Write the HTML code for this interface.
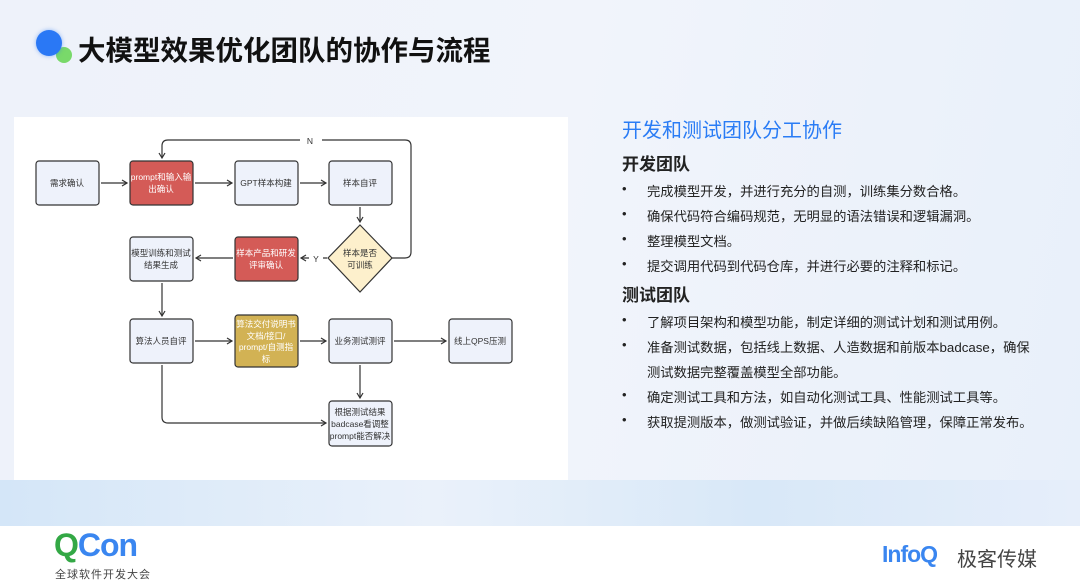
<!DOCTYPE html>
<html><head><meta charset="utf-8"><style>
*{margin:0;padding:0}
body{width:1080px;height:585px;position:relative;overflow:hidden;font-family:"Liberation Sans","Noto Sans CJK SC",sans-serif;background:linear-gradient(100deg,#eef2fa 0%,#f1f4fb 50%,#e8f0fa 100%)}
.a{position:absolute;white-space:nowrap}
.foot{position:absolute;left:0;top:526px;width:1080px;height:59px;background:#fff}
.band{position:absolute;left:0;top:480px;width:1080px;height:46px;background:linear-gradient(90deg,#d4e6f8,#eaf1fa 40%,#d8e8f8 70%,#e6eefa)}
.li{font-size:13.3px;color:#222}
.bul{position:absolute;left:622px;font-size:13px;color:#222}
</style></head><body>
<div class="band"></div>
<div style="position:absolute;left:56px;top:47px;width:16px;height:16px;border-radius:50%;background:#79d96a"></div>
<div style="position:absolute;left:36px;top:30px;width:26px;height:26px;border-radius:50%;background:#2a78f5;box-shadow:0 0 4px rgba(42,120,245,.5)"></div>
<div class="a" style="left:78px;top:28px;font-size:27.5px;font-weight:bold;color:#111">大模型效果优化团队的协作与流程</div>

<div style="position:absolute;left:14px;top:117px;width:554px;height:363px;background:#fff"></div>
<svg style="position:absolute;left:0;top:0" width="1080" height="585" font-family="Liberation Sans,Noto Sans CJK SC,sans-serif" font-size="8.5">
<defs><marker id="m" markerWidth="8" markerHeight="8" refX="6" refY="4" orient="auto" markerUnits="userSpaceOnUse"><path d="M1,1 L6,4 L1,7" fill="none" stroke="#333" stroke-width="1.2"/></marker></defs>
<g stroke="#333" stroke-width="1.2" fill="none" marker-end="url(#m)">
<line x1="101" y1="183" x2="127" y2="183"/>
<line x1="195" y1="183" x2="232" y2="183"/>
<line x1="300" y1="183" x2="326" y2="183"/>
<line x1="360" y1="207" x2="360" y2="222"/>
<line x1="327" y1="258" x2="301" y2="258"/>
<line x1="233" y1="258" x2="196" y2="258"/>
<line x1="162" y1="283" x2="162" y2="316"/>
<line x1="195" y1="341" x2="232" y2="341"/>
<line x1="300" y1="341" x2="326" y2="341"/>
<line x1="394" y1="341" x2="446" y2="341"/>
<line x1="360" y1="365" x2="360" y2="398"/>
<path d="M392,258 H405 Q411,258 411,252 V146 Q411,140 405,140 H168 Q162,140 162,146 V158"/>
<path d="M162,365 V417 Q162,423 168,423 H326"/>
</g>
<rect x="300" y="134" width="22" height="12" fill="#fff"/>
<text x="310" y="144" text-anchor="middle" fill="#333">N</text>
<rect x="309" y="252" width="14" height="12" fill="#fff"/>
<text x="316" y="262" text-anchor="middle" fill="#333">Y</text>
<g stroke="#333" stroke-width="1.2">
<rect x="36" y="161" width="63" height="44" rx="3" fill="#eef2fb"/>
<rect x="130" y="161" width="63" height="44" rx="3" fill="#d45b57"/>
<rect x="235" y="161" width="63" height="44" rx="3" fill="#eef2fb"/>
<rect x="329" y="161" width="63" height="44" rx="3" fill="#eef2fb"/>
<polygon points="360,225 392,258 360,292 328,258" fill="#fdf0cc"/>
<rect x="130" y="237" width="63" height="44" rx="3" fill="#eef2fb"/>
<rect x="235" y="237" width="63" height="44" rx="3" fill="#d45b57"/>
<rect x="130" y="319" width="63" height="44" rx="3" fill="#eef2fb"/>
<rect x="235" y="315" width="63" height="52" rx="3" fill="#d2b254"/>
<rect x="329" y="319" width="63" height="44" rx="3" fill="#eef2fb"/>
<rect x="449" y="319" width="63" height="44" rx="3" fill="#eef2fb"/>
<rect x="329" y="401" width="63" height="45" rx="3" fill="#eef2fb"/>
</g>
<g text-anchor="middle" fill="#333">
<text x="67" y="186">需求确认</text>
<text x="161" y="180" fill="#fff">prompt和输入输</text><text x="161" y="192" fill="#fff">出确认</text>
<text x="266" y="186">GPT样本构建</text>
<text x="360" y="186">样本自评</text>
<text x="360" y="256">样本是否</text><text x="360" y="268">可训练</text>
<text x="161" y="256">模型训练和测试</text><text x="161" y="268">结果生成</text>
<text x="266" y="256" fill="#fff">样本产品和研发</text><text x="266" y="268" fill="#fff">评审确认</text>
<text x="161" y="344">算法人员自评</text>
<text x="266" y="327" fill="#fff">算法交付说明书</text><text x="266" y="339" fill="#fff">文档/接口/</text><text x="266" y="350" fill="#fff">prompt/自测指</text><text x="266" y="362" fill="#fff">标</text>
<text x="360" y="344">业务测试测评</text>
<text x="480" y="344">线上QPS压测</text>
<text x="360" y="415">根据测试结果</text><text x="360" y="427">badcase看调整</text><text x="360" y="439">prompt能否解决</text>
</g>
</svg>

<div class="a" style="left:622px;top:114px;font-size:20px;color:#2a7cf5">开发和测试团队分工协作</div>
<div class="a" style="left:622px;top:150px;font-size:17px;font-weight:bold;color:#222">开发团队</div>
<div class="bul" style="top:181px">•</div><div class="a li" style="left:647px;top:181px">完成模型开发，并进行充分的自测，训练集分数合格。</div>
<div class="bul" style="top:206px">•</div><div class="a li" style="left:647px;top:206px">确保代码符合编码规范，无明显的语法错误和逻辑漏洞。</div>
<div class="bul" style="top:231px">•</div><div class="a li" style="left:647px;top:231px">整理模型文档。</div>
<div class="bul" style="top:256px">•</div><div class="a li" style="left:647px;top:256px">提交调用代码到代码仓库，并进行必要的注释和标记。</div>
<div class="a" style="left:622px;top:281px;font-size:17px;font-weight:bold;color:#222">测试团队</div>
<div class="bul" style="top:312px">•</div><div class="a li" style="left:647px;top:312px">了解项目架构和模型功能，制定详细的测试计划和测试用例。</div>
<div class="bul" style="top:337px">•</div><div class="a li" style="left:647px;top:337px">准备测试数据，包括线上数据、人造数据和前版本badcase，确保</div>
<div class="a li" style="left:647px;top:362px">测试数据完整覆盖模型全部功能。</div>
<div class="bul" style="top:387px">•</div><div class="a li" style="left:647px;top:387px">确定测试工具和方法，如自动化测试工具、性能测试工具等。</div>
<div class="bul" style="top:412px">•</div><div class="a li" style="left:647px;top:412px">获取提测版本，做测试验证，并做后续缺陷管理，保障正常发布。</div>

<div class="foot"></div>
<div class="a" style="left:54px;top:527px;font-size:32px;font-weight:bold;letter-spacing:-1px"><span style="color:#33a845">Q</span><span style="color:#3a86f0">Con</span></div>
<div class="a" style="left:55px;top:566px;font-size:11px;color:#444;letter-spacing:1px">全球软件开发大会</div>
<div class="a" style="left:882px;top:541px;font-size:23px;font-weight:bold;color:#3a86f0;letter-spacing:-1px">InfoQ</div>
<div class="a" style="left:957px;top:543px;font-size:20px;color:#444">极客传媒</div>
</body></html>
